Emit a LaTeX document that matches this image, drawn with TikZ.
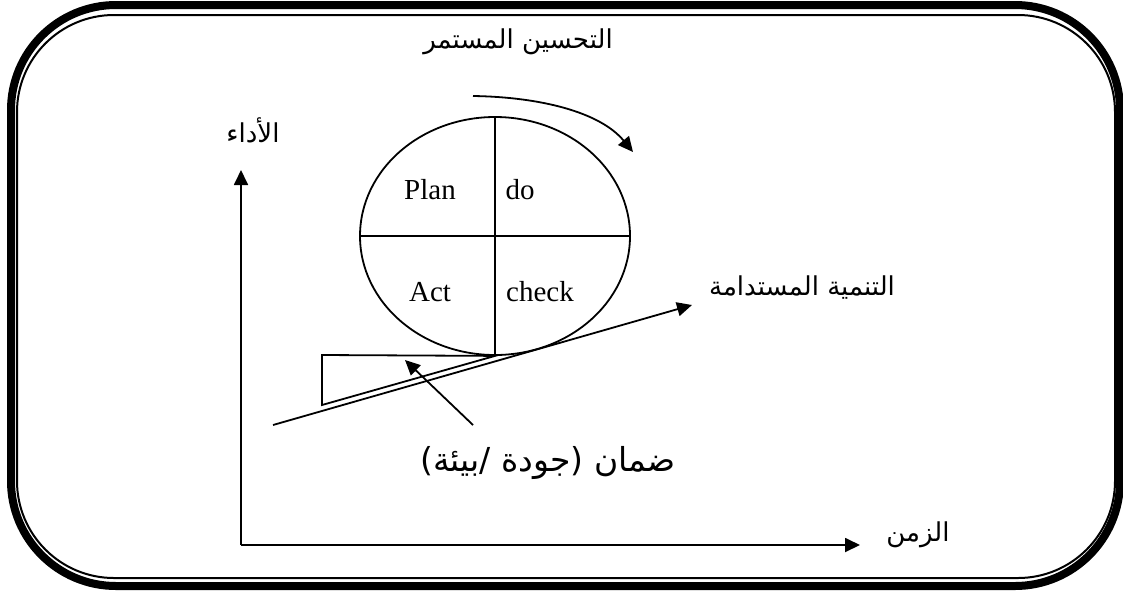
\documentclass[tikz,border=0pt]{standalone}
\usepackage{fontspec}
\setmainfont{Liberation Serif}
\newfontfamily\arabicfont[Script=Arabic]{DejaVu Sans}
\newfontfamily\latinsans{DejaVu Sans}
\TeXXeTstate=1
\usetikzlibrary{arrows.meta,shapes.geometric}
\newcommand{\rtl}[1]{\beginR #1\endR}
\tikzset{
  ln/.style={line width=1.8pt},
  arr/.style={ln,-{Triangle[length=15pt,width=14pt]}},
  lab/.style={font=\fontsize{29}{32}\selectfont,inner sep=0pt},
  ar/.style={font=\arabicfont\fontsize{26}{30}\selectfont,inner sep=0pt},
  arbig/.style={font=\fontsize{33}{38}\selectfont,inner sep=0pt},
}
\begin{document}
\begin{tikzpicture}[x=1pt,y=-1pt]
\useasboundingbox (0,0) rectangle (1123,590);
% frame
\draw[line width=8pt,rounded corners=105pt] (11,5) rectangle (1120,586);
\draw[line width=2pt,rounded corners=97pt] (17,15) rectangle (1115,578);
% PDCA ellipse
\node[ellipse,draw,ln,minimum width=270pt,minimum height=238pt,inner sep=0pt] (E) at (495,236) {};
\draw[ln] (E.north) -- (E.south);
\draw[ln] (E.west) -- (E.east);
\node[lab] (plan) at (430,190) {Plan};
\node[lab] (do) at (520,190) {do};
\node[lab] (act) at (430,292) {Act};
\node[lab] (check) at (540,292) {check};
% continuous improvement
\node[ar] (ci) at (518,42) {\rtl{التحسين المستمر}};
\coordinate (c0) at (473,96);
\coordinate (c1) at (633,152);
\draw[arr] (c0) .. controls (540,97) and (600,112) .. (c1);
% axes
\coordinate (O) at (241,545);
\coordinate (Y) at (241,170);
\coordinate (X) at (860,545);
\draw[arr] (O) -- (Y);
\draw[arr] (O) -- (X);
\node[ar] (perf) at (253,130) {\rtl{الأداء}};
\node[ar] (time) at (918,535) {\rtl{الزمن}};
% wedge
\draw[ln] (322,355) -- (E.south) -- (322,405) -- cycle;
% sustainable development
\coordinate (s0) at (273,425);
\coordinate (s1) at (692,305);
\draw[arr] (s0) -- (s1);
\node[ar] (sd) at (802,288) {\rtl{التنمية المستدامة}};
% assurance
\node[arbig] (qa) at (548,463) {\latinsans(\arabicfont\rtl{بيئة}\latinsans/ \arabicfont\rtl{جودة}\latinsans) \arabicfont\rtl{ضمان}};
\coordinate (q0) at (473,425);
\coordinate (q1) at (405,360);
\draw[arr] (q0) -- (q1);
\end{tikzpicture}
\end{document}
